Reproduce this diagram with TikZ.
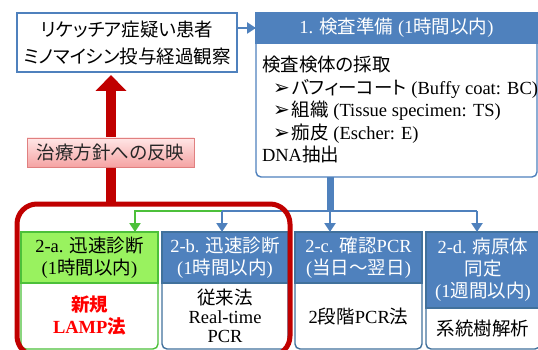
\documentclass[tikz,border=0pt]{standalone}
\usepackage{fontspec}
\setmainfont{Liberation Serif}
\newfontfamily\jp[RawFeature=+palt]{Noto Sans CJK JP}
\newfontfamily\dvs{DejaVu Sans}
\newcommand\J[1]{{\jp #1}}
\newcommand\mk{{\dvs\fontsize{20}{20}\selectfont ➢}}
\usetikzlibrary{arrows.meta}
\definecolor{obl}{HTML}{4F81BD}
\definecolor{obd}{HTML}{41719C}
\definecolor{grf}{HTML}{99F25F}
\definecolor{grd}{HTML}{4CC03A}
\definecolor{dred}{HTML}{C00000}
\definecolor{pkt}{HTML}{FFE6E6}
\definecolor{pkb}{HTML}{F5A3A3}
\definecolor{pkd}{HTML}{E08080}
\begin{document}
\begin{tikzpicture}[x=1pt,y=-1pt,
  every node/.style={inner sep=0pt,outer sep=0pt},
  txt/.style={font=\fontsize{18.5}{22}\selectfont},
  hdrbox/.style={txt,anchor=north west,fill=obl,draw=obd,line width=1.2pt,text=white,align=center},
  bodybox/.style={txt,anchor=north west,fill=white,align=center},
  outline/.style={draw=#1,line width=1.4pt,rounded corners=5pt},
  conn/.style={draw=obl,line width=2.2pt},
  tipb/.style={-{Triangle[width=11pt,length=9pt]}}]

\useasboundingbox (0,0) rectangle (538,350);

% ---- box 1 (preparation)
\node[bodybox,minimum width=281pt,minimum height=134pt] (prepb) at (256,43) {};
\draw[outline=obl] (prepb.north west) -- (prepb.south west) -- (prepb.south east) -- (prepb.north east);
\node[anchor=north west,align=left,font=\fontsize{18.5}{22.5}\selectfont] (prept) at (262,56) {%
\J{検査検体の採取}\\
\hspace*{11pt}\mk\hspace{2pt}\J{バフィーコート} (Buffy coat: BC)\\
\hspace*{11pt}\mk\hspace{2pt}\J{組織} (Tissue specimen: TS)\\
\hspace*{11pt}\mk\hspace{2pt}\J{痂皮} (Escher: E)\\
DNA\J{抽出}};
\node[hdrbox,draw=obl,minimum width=281pt,minimum height=30pt] (prep) at (256,13) {1. \J{検査準備} (1\J{時間以内})};

% ---- patient box
\node[anchor=north west,draw=obl,line width=1.4pt,fill=white,minimum width=220pt,minimum height=59pt,align=center,font=\jp\fontsize{18.5}{27}\selectfont] (pat) at (17,13) {リケッチア症疑い患者\\ミノマイシン投与経過観察};

% ---- row of step boxes
\node[bodybox,minimum width=137pt,minimum height=66pt,text=red,font=\bfseries\fontsize{18.5}{22}\selectfont] (b2a) at (21,283) {\J{新規}\\LAMP\J{法}};
\draw[outline=grd] (b2a.north west) -- (b2a.south west) -- (b2a.south east) -- (b2a.north east);
\node[hdrbox,fill=grf,draw=grd,text=black,minimum width=137pt,minimum height=51pt] (h2a) at (21,232) {2-a. \J{迅速診断}\\(1\J{時間以内})};

\node[bodybox,minimum width=126pt,minimum height=66pt,font=\fontsize{18.5}{19}\selectfont] (b2b) at (162,283) {\J{従来法}\\Real-time\\PCR};
\draw[outline=obd] (b2b.north west) -- (b2b.south west) -- (b2b.south east) -- (b2b.north east);
\node[hdrbox,minimum width=126pt,minimum height=51pt] (h2b) at (162,232) {2-b. \J{迅速診断}\\(1\J{時間以内})};

\node[bodybox,minimum width=127pt,minimum height=66pt] (b2c) at (295,283) {2\J{段階}PCR\J{法}};
\draw[outline=obd] (b2c.north west) -- (b2c.south west) -- (b2c.south east) -- (b2c.north east);
\node[hdrbox,minimum width=127pt,minimum height=51pt] (h2c) at (295,232) {2-c. \J{確認}PCR\\(\J{当日～翌日})};

\node[bodybox,minimum width=114pt,minimum height=41pt] (b2d) at (426,308) {\J{系統樹解析}};
\draw[outline=obd] (b2d.north west) -- (b2d.south west) -- (b2d.south east) -- (b2d.north east);
\node[hdrbox,minimum width=114pt,minimum height=76pt] (h2d) at (426,232) {2-d. \J{病原体}\\\J{同定}\\(1\J{週間以内})};

% ---- connectors
\draw[conn,tipb] (pat.east |- prep.west) -- (prep.west);
\coordinate (jc) at (330,211);
\coordinate (jb) at (222,211);
\coordinate (jd) at (477,211);
\coordinate (jg) at (135,211);
\draw[draw=grd,line width=2.2pt,tipb] (jb) -- (jg) -- (h2a.north -| jg);
\draw[draw=obl,line width=7pt] (prepb.south -| jc) -- (jc);
\draw[conn] (jb) -- (jd);
\draw[conn,tipb] (jb) -- (h2b.north -| jb);
\draw[conn,tipb] (jc) -- (h2c.north -| jc);
\draw[conn,tipb] (jd) -- (h2d.north -| jd);

% ---- red frame and feedback arrow
\node[anchor=north west,draw=dred,line width=5pt,rounded corners=20pt,minimum width=273pt,minimum height=152pt] (frame) at (17,204) {};
\coordinate (rx) at (111,0);
\draw[dred,line width=10pt,-{Triangle[width=30pt,length=16pt]},shorten >=3pt] (frame.north -| rx) -- (pat.south -| rx);
\node[anchor=north west,draw=pkd,line width=0.8pt,top color=pkt,bottom color=pkb,minimum width=167pt,minimum height=29pt,text={black!85},font=\jp\fontsize{18.5}{22}\selectfont] (lab) at (27,138) {治療方針への反映};
\end{tikzpicture}
\end{document}
